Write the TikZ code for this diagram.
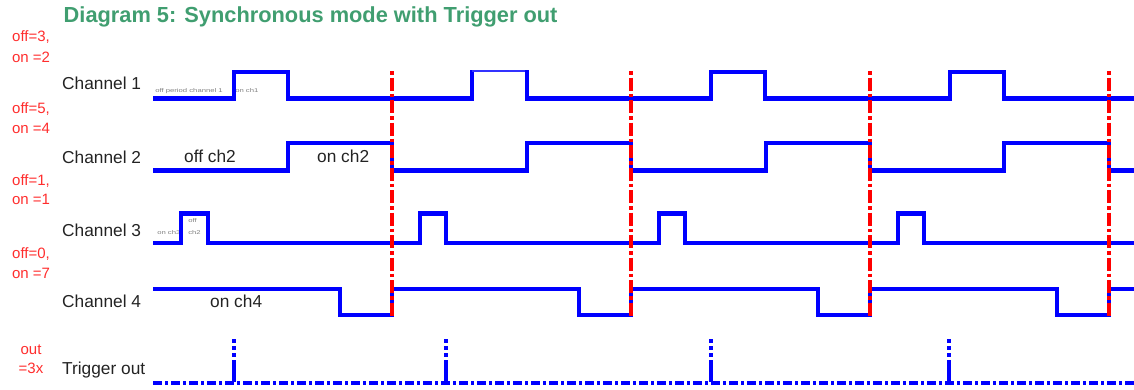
\documentclass[tikz,border=0pt]{standalone}
\usepackage{fontspec}
\setmainfont{Liberation Sans}
\definecolor{wblue}{RGB}{0,0,255}
\definecolor{tgreen}{RGB}{64,158,112}
\definecolor{lred}{RGB}{255,45,45}
\definecolor{lbl}{RGB}{35,35,35}
\tikzset{
  wave/.style={draw=wblue, line width=4.5pt, line join=miter},
  syncline/.style={draw=red, line width=3.5pt, dash pattern=on 3.5pt off 3pt on 13pt off 3pt},
  trigbase/.style={draw=wblue, line width=4pt, dash pattern=on 9pt off 3pt on 3pt off 3pt},
  trigpulse/.style={draw=wblue, line width=4pt, dash pattern=on 4pt off 3pt on 4pt off 3pt on 4pt off 3pt on 40pt},
  titletext/.style={anchor=base west, inner sep=0pt, text=tgreen, font=\fontsize{21.8}{24}\selectfont\bfseries},
  param/.style={anchor=base, inner sep=0pt, text=lred, font=\fontsize{15}{17}\selectfont},
  chlabel/.style={anchor=base west, inner sep=0pt, text=lbl, font=\fontsize{17.3}{20}\selectfont},
  tinytext/.style={anchor=base west, inner sep=0pt, text=gray, font=\fontsize{5.5}{6}\selectfont, xscale=1.4},
}
\begin{document}
\begin{tikzpicture}[x=1pt,y=-1pt]
\useasboundingbox (0,0) rectangle (1134,389);

\node[titletext] (title) at (63.5,22) {Diagram 5: Synchronous mode with Trigger out};

\node[param] (p1a) at (31,41) {off=3,};
\node[param] (p1b) at (31,62) {on =2};
\node[param] (p2a) at (31,113) {off=5,};
\node[param] (p2b) at (31,133) {on =4};
\node[param] (p3a) at (31,185) {off=1,};
\node[param] (p3b) at (31,204) {on =1};
\node[param] (p4a) at (31,258) {off=0,};
\node[param] (p4b) at (31,278) {on =7};
\node[param] (p5a) at (31,354) {out};
\node[param] (p5b) at (31,373) {=3x};

\node[chlabel] (ch1) at (62,89) {Channel 1};
\node[chlabel] (ch2) at (62,163) {Channel 2};
\node[chlabel] (ch3) at (62,236) {Channel 3};
\node[chlabel] (ch4) at (62,307) {Channel 4};
\node[chlabel] (trg) at (62,374) {Trigger out};

\node[chlabel] (offch2) at (184,162) {off ch2};
\node[chlabel] (onch2) at (317,162) {on ch2};
\node[chlabel] (onch4) at (210,307) {on ch4};

\node[tinytext] (t1) at (155,92) {off period channel 1};
\node[tinytext] (t2) at (235,92) {on ch1};
\node[tinytext] (t3) at (157,234) {on ch3};
\node[tinytext] (t4) at (188,222) {off};
\node[tinytext] (t5) at (188,234) {ch2};

% Channel 1
\draw[wave] (153,98.5) -| (234,72) -| (288,98.5) -| (472,70);
\draw[draw=wblue!80, line width=2.5pt] (472,71) -- (527,71);
\draw[wave] (527,70) |- (711,98.5) -- (711,72) -| (765,98.5) -| (950,72) -| (1004,98.5) -- (1134,98.5);
% Channel 2
\draw[wave] (153,170.5) -| (288,143) -| (392,170.5) -| (527,143) -| (631,170.5) -| (766,143) -| (870,170.5) -| (1004,143) -| (1109,170.5) -- (1134,170.5);
% Channel 3
\draw[wave] (153,243) -| (181,213.5) -| (208,243) -| (420,213.5) -| (446,243) -| (659,213.5) -| (685,243) -| (898,213.5) -| (924,243) -- (1134,243);
% Channel 4
\draw[wave] (153,289) -| (340,315) -| (392,289) -| (579,315) -| (631,289) -| (818,315) -| (870,289) -| (1057,315) -| (1109,289) -- (1134,289);

% sync lines
\foreach \xx in {392,631,870,1109} {
  \draw[syncline] (\xx,71) -- (\xx,316);
}

% Trigger out
\draw[trigbase] (153,382.5) -- (1134,382.5);
\foreach \xx in {234,446,711,949} {
  \draw[trigpulse] (\xx,339) -- (\xx,382);
}
\end{tikzpicture}
\end{document}
